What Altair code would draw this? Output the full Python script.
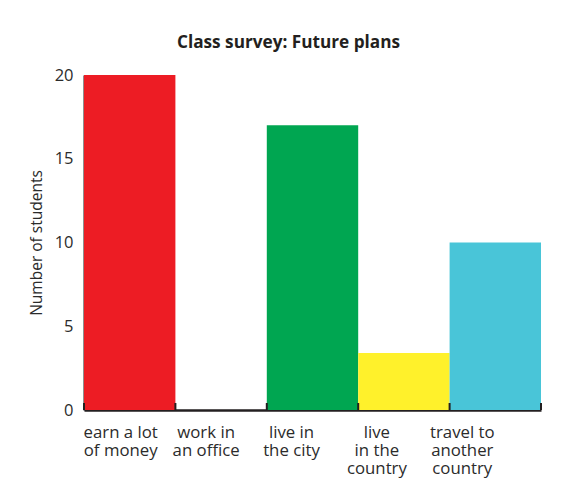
import altair as alt
import pandas as pd

categories = ["earn a lot|of money", "work in|an office", "live in|the city",
              "live|in the|country", "travel to|another|country"]
students = [20, 0, 17, 3.4, 10]
colors = ["#ED1C24", "#FFFFFF", "#00A651", "#FFF12B", "#49C5D8"]
y_ticks = [0, 5, 10, 15, 20]

df = pd.DataFrame({"plan": categories, "students": students, "color": colors})

FONT = "Open Sans"
DARK = "#231F20"
TEXT = "#2B2B2B"

xscale = alt.Scale(domain=categories, paddingInner=0, paddingOuter=0)

label_offset = {
    "condition": [
        {"test": f"datum.value === '{categories[0]}'", "value": -9},
        {"test": f"datum.value === '{categories[1]}'", "value": -15},
        {"test": f"datum.value === '{categories[2]}'", "value": -21},
        {"test": f"datum.value === '{categories[3]}'", "value": -27},
    ],
    "value": -33,
}

bars = alt.Chart(df).mark_bar(stroke=None).encode(
    x=alt.X("plan:N", scale=xscale, sort=categories, title=None,
            axis=alt.Axis(labelExpr="split(datum.label, '|')", labelAngle=0,
                          labelFont=FONT, labelFontSize=16.8, labelColor=TEXT,
                          labelLineHeight=18, labelPadding=14, ticks=False,
                          domainColor=DARK, domainWidth=2.5, labelOffset=label_offset)),
    y=alt.Y("students:Q", scale=alt.Scale(domain=[0, 20], nice=False),
            title="Number of students",
            axis=alt.Axis(values=y_ticks, ticks=False, grid=False, labelFont=FONT,
                          labelFontSize=16.5, labelColor=TEXT, labelPadding=11,
                          titleFont=FONT, titleFontSize=15.5, titleFontWeight="normal",
                          titleColor=TEXT, titlePadding=10,
                          domainColor=DARK, domainWidth=2)),
    color=alt.Color("color:N", scale=None),
)

ticks_left = alt.Chart(df).mark_rule(color=DARK, strokeWidth=2, y2Offset=-7).encode(
    x=alt.X("plan:N", scale=xscale, sort=categories, bandPosition=0),
    y=alt.datum(0),
    y2=alt.datum(0),
)

ticks_right = alt.Chart(df.tail(1)).mark_rule(color=DARK, strokeWidth=2, y2Offset=-7).encode(
    x=alt.X("plan:N", scale=xscale, sort=categories, bandPosition=1),
    y=alt.datum(0),
    y2=alt.datum(0),
)

chart = alt.layer(bars, ticks_left, ticks_right).properties(
    width=457,
    height=335,
    title=alt.TitleParams("Class survey: Future plans", font=FONT, fontSize=17.2,
                          fontWeight="bold", color=DARK, dx=-24, offset=16),
    autosize=alt.AutoSizeParams(type="none"),
    padding={"left": 76, "top": 67, "right": 12, "bottom": 76},
    background="white",
).configure_view(stroke=None)

chart.save("out.html", embed_options={"renderer": "svg", "actions": False})
